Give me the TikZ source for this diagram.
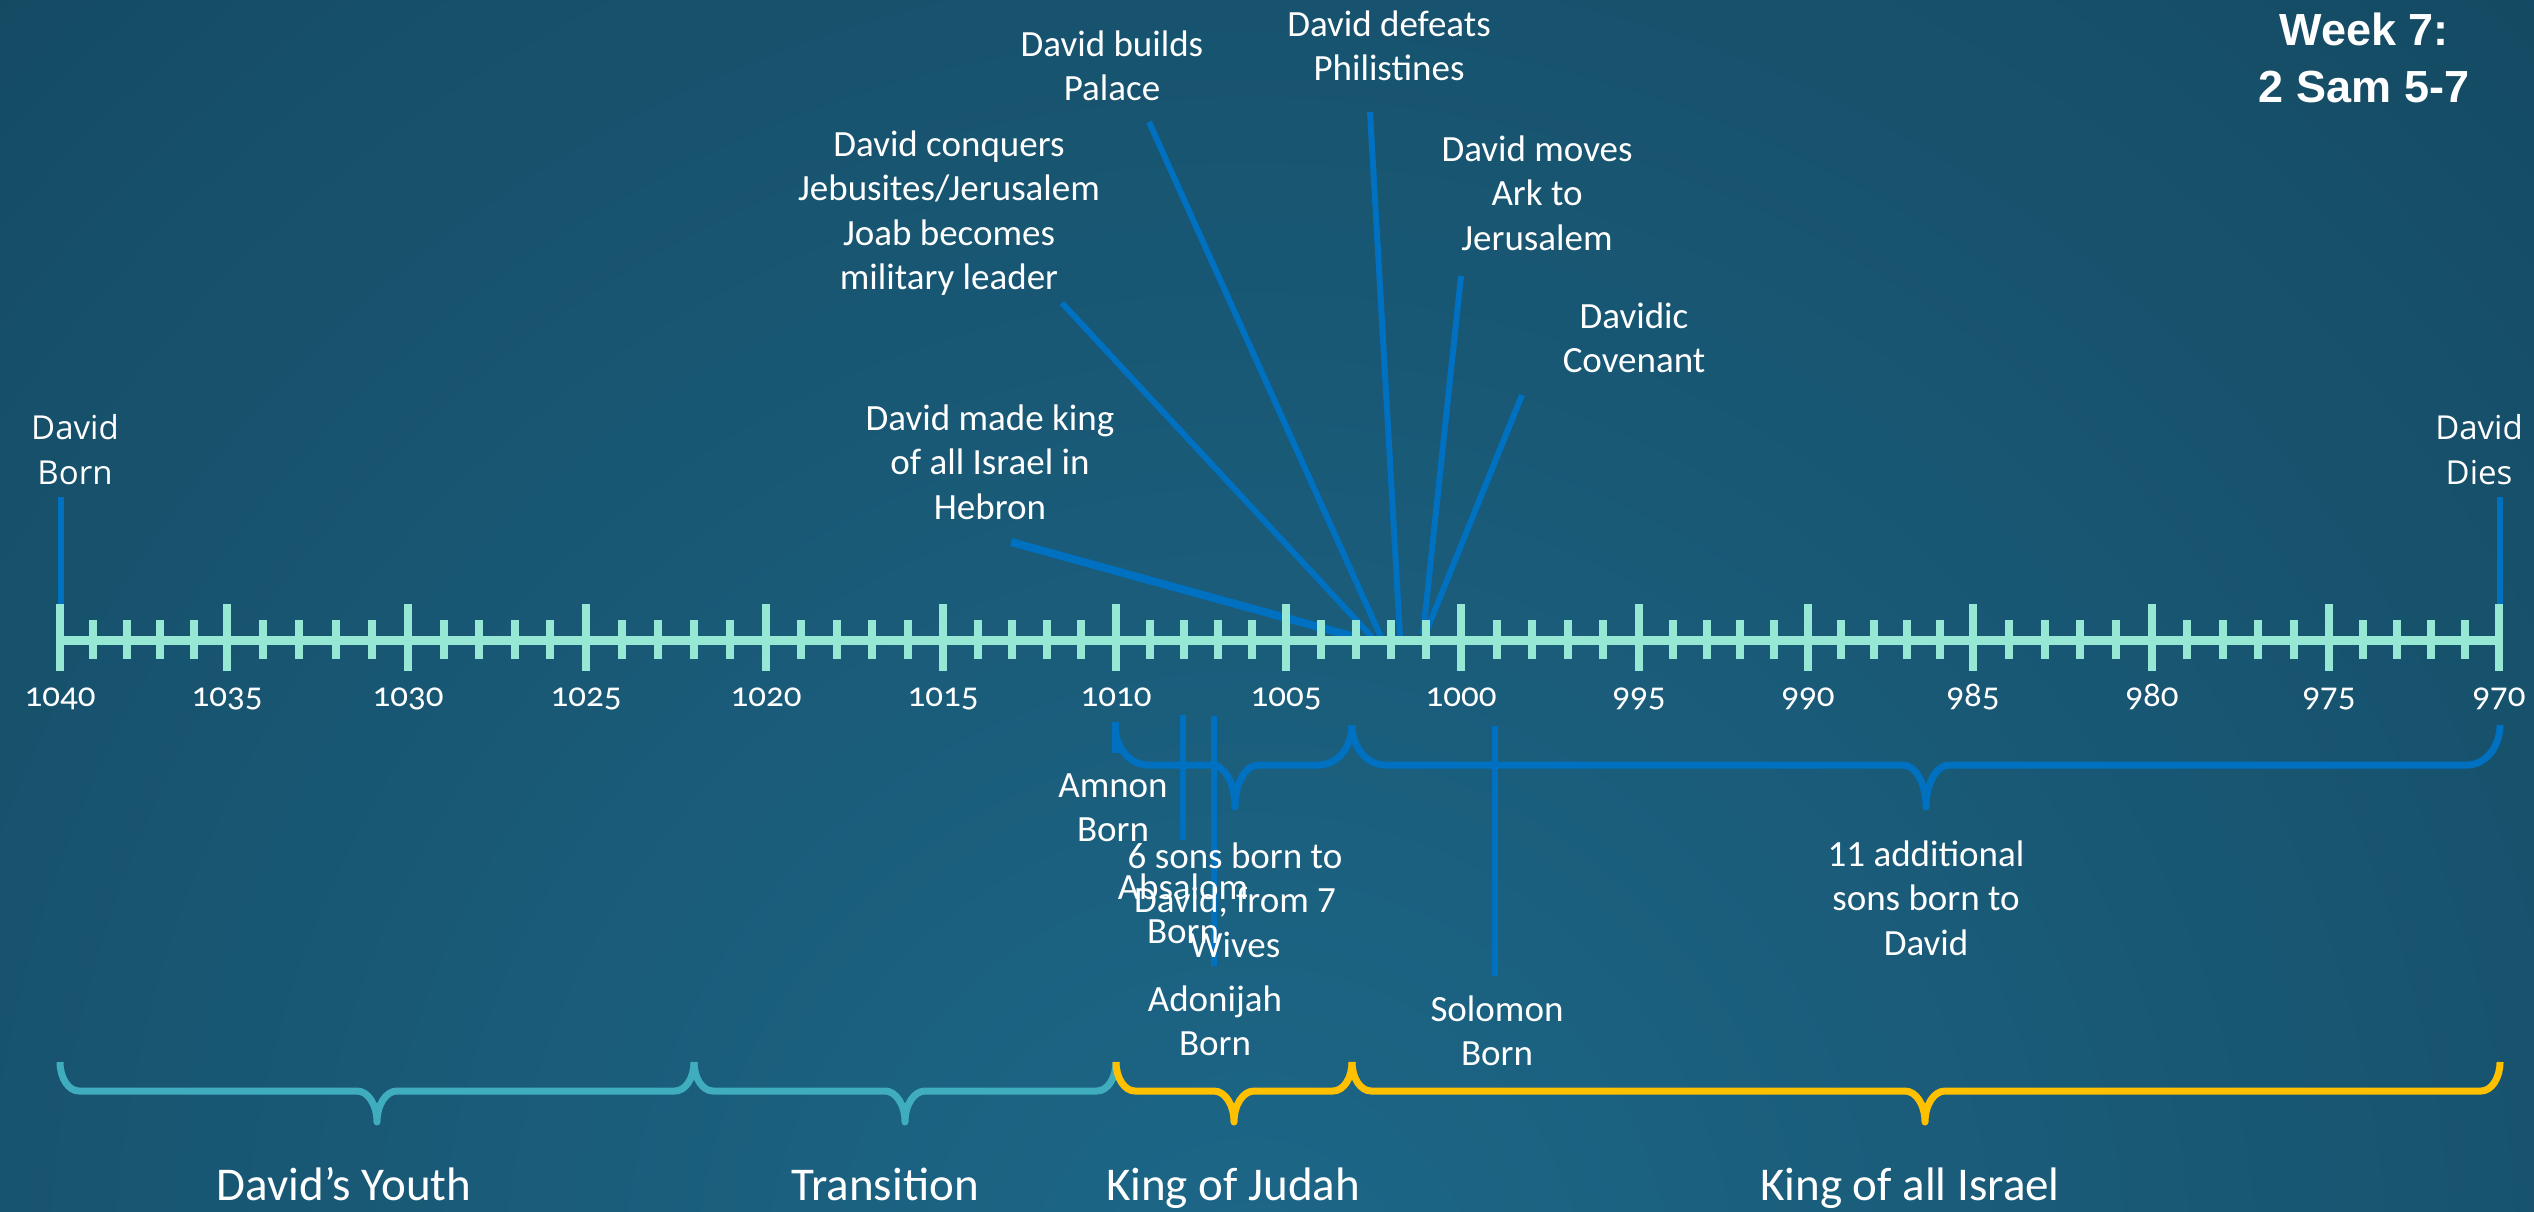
\documentclass[tikz,border=0pt]{standalone}
\usepackage{fontspec}
\setmainfont{Carlito}
\newfontfamily\numfont[Numbers=OldStyle]{Carlito}
\newfontfamily\osfont{Open Sans}
\newfontfamily\titlefont{Liberation Sans}
\definecolor{axiscol}{HTML}{96E8D4}
\definecolor{evblue}{HTML}{0070C0}
\definecolor{tealbr}{HTML}{3FADBD}
\definecolor{goldbr}{HTML}{FFC000}
\definecolor{bgin}{HTML}{1D6788}
\definecolor{bgmid}{HTML}{164F69}
\definecolor{bgout}{HTML}{0D3143}
\pgfdeclareradialshading{bgshade}{\pgfpointorigin}{color(0bp)=(bgin); color(20bp)=(bgmid); color(40bp)=(bgout); color(50bp)=(bgout)}
\newcommand\curlybr[9]{%
  \draw[#1] (#2,#5) .. controls (#2,{#5+0.552*(#6-#5)}) and ({#2+0.448*#8},#6) .. ({#2+#8},#6)
   -- ({#3-#9},#6) .. controls ({#3-0.448*#9},#6) and (#3,{#6+0.448*(#7-#6)}) .. (#3,#7)
   .. controls (#3,{#6+0.448*(#7-#6)}) and ({#3+0.448*#9},#6) .. ({#3+#9},#6)
   -- ({#4-#8},#6) .. controls ({#4-0.448*#8},#6) and (#4,{#5+0.552*(#6-#5)}) .. (#4,#5);}
\begin{document}
\begin{tikzpicture}[x=1pt,y=-1pt,
  lbl/.style={text=white,align=center,anchor=base,inner sep=0pt,font=\fontsize{37}{44.5}\selectfont},
  endlbl/.style={text=white,align=center,anchor=base,inner sep=0pt,font=\osfont\fontsize{33}{45}\selectfont},
  biglbl/.style={text=white,anchor=base,inner sep=0pt,font=\fontsize{47}{56}\selectfont},
  yearlbl/.style={text=white,anchor=base,inner sep=0pt,font=\numfont\fontsize{35}{42}\selectfont},
  titlelbl/.style={text=white,align=center,anchor=base,inner sep=0pt,font=\titlefont\bfseries\fontsize{45}{57}\selectfont},
  evline/.style={draw=evblue,line width=6pt},
  axisline/.style={draw=axiscol,line width=9pt},
  tickmaj/.style={draw=axiscol,line width=8pt},
  tickmin/.style={draw=axiscol,line width=8pt},
  bluebr/.style={draw=evblue,line width=7pt,line join=round},
  tealb/.style={draw=tealbr,line width=7pt,line join=round},
  goldb/.style={draw=goldbr,line width=7pt,line join=round}]
\useasboundingbox (0,0) rectangle (2534,1211);
\fill[bgout] (0,0) rectangle (2534,1211);
\begin{scope}
\clip (0,0) rectangle (2534,1211);
\shade[shading=bgshade] (1250,1300) circle (1950);
\end{scope}
% text nodes (anchor = baseline of last line)
\node[titlelbl] (title) at (2364,102) {Week 7:\\2 Sam 5-7};
\node[endlbl] (born) at (75,484) {David\\Born};
\node[endlbl] (dies) at (2479,484) {David\\Dies};
\node[lbl] (palace) at (1112,100.5) {David builds\\Palace};
\node[lbl] (phil) at (1389,80.5) {David defeats\\Philistines};
\node[lbl] (jebus) at (949,289.5) {David conquers\\Jebusites/Jerusalem\\Joab becomes\\military leader};
\node[lbl] (ark) at (1537,250) {David moves\\Ark to\\Jerusalem};
\node[lbl] (cov) at (1634,372.5) {Davidic\\Covenant};
\node[lbl] (hebron) at (990,519) {David made king\\of all Israel in\\Hebron};
% connector end points
\coordinate (bornA) at (61,497); \coordinate (bornB) at (61,604);
\coordinate (diesA) at (2500,497); \coordinate (diesB) at (2500,604);
\coordinate (hebA) at (1011,542); \coordinate (hebB) at (1355,637);
\coordinate (jebA) at (1062,303); \coordinate (jebB) at (1372,637);
\coordinate (palA) at (1149,122); \coordinate (palB) at (1381,637);
\coordinate (phiA) at (1370,112); \coordinate (phiB) at (1400,636);
\coordinate (arkA) at (1461,276); \coordinate (arkB) at (1423,634);
\coordinate (covA) at (1522,395); \coordinate (covB) at (1424,637);
\draw[evline] (bornA) -- (bornB);
\draw[evline] (diesA) -- (diesB);
\draw[evline,line width=8pt] (hebA) -- (hebB);
\draw[evline] (jebA) -- (jebB);
\draw[evline] (palA) -- (palB);
\draw[evline] (phiA) -- (phiB);
\draw[evline] (arkA) -- (arkB);
\draw[evline] (covA) -- (covB);
% axis
\draw[axisline] (56,640) -- (2503,640);
\foreach \x/\yr in {60/1040,227/1035,408/1030,586/1025,766/1020,943/1015,1116/1010,1286/1005,1461/1000,1639/995,1808/990,1973/985,2152/980,2329/975,2499/970}{
  \draw[tickmaj] (\x,604) -- (\x,671);
  \node[yearlbl] (y\yr) at (\x,706) {\yr};
}
\foreach \x [remember=\x as \px (initially 60)] in {227,408,586,766,943,1116,1286,1461,1639,1808,1973,2152,2329,2499}{
  \foreach \k in {1,2,3,4}{
    \draw[tickmin] ({\px+\k*(\x-\px)/5},620) -- ({\px+\k*(\x-\px)/5},659);
  }
}
% blue braces below axis
\curlybr{bluebr}{1115}{1235}{1352}{725}{765}{807}{33}{23}
\curlybr{bluebr}{1352}{1926}{2500}{725}{765}{807}{33}{23}
\coordinate (amA) at (1115,722); \coordinate (amB) at (1115,753);
\coordinate (abA) at (1183,715); \coordinate (abB) at (1183,840);
\coordinate (adA) at (1214,716); \coordinate (adB) at (1214,966);
\coordinate (soA) at (1495,726); \coordinate (soB) at (1495,976);
\draw[evline,line width=7pt] (amA) -- (amB);
\draw[evline] (abA) -- (abB);
\draw[evline] (adA) -- (adB);
\draw[evline] (soA) -- (soB);
\node[lbl] (amnon) at (1113,841.5) {Amnon\\Born};
\node[lbl] (absalom) at (1183,943.5) {Absalom\\Born};
\node[lbl] (sixsons) at (1235,957) {6 sons born to\\David, from 7\\Wives};
\node[lbl] (adonijah) at (1215,1055.5) {Adonijah\\Born};
\node[lbl] (solomon) at (1497,1065.5) {Solomon\\Born};
\node[lbl] (eleven) at (1926,955) {11 additional\\sons born to\\David};
% period braces
\curlybr{tealb}{60}{377}{694}{1062}{1091}{1122}{19}{20}
\curlybr{tealb}{694}{905}{1116}{1062}{1091}{1122}{19}{20}
\curlybr{goldb}{1116}{1234}{1352}{1062}{1091}{1122}{19}{20}
\curlybr{goldb}{1352}{1925}{2500}{1062}{1091}{1122}{19}{20}
\node[biglbl] (youth) at (344,1200) {David’s Youth};
\node[biglbl] (trans) at (885,1200) {Transition};
\node[biglbl] (judah) at (1233,1200) {King of Judah};
\node[biglbl] (israel) at (1910,1200) {King of all Israel};
\end{tikzpicture}
\end{document}
